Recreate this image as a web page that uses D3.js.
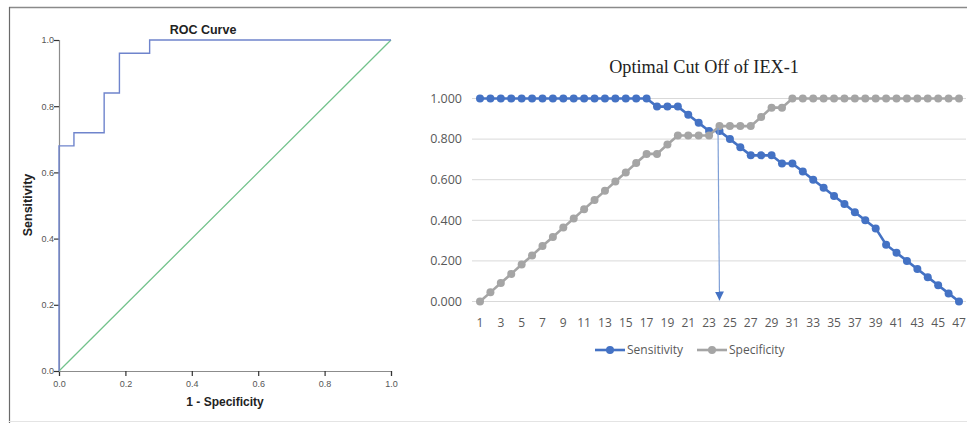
<!DOCTYPE html>
<html>
<head>
<meta charset="utf-8">
<script src="https://cdn.jsdelivr.net/npm/d3@7"></script>
<style>
  body { margin: 0; background: #fff; }
  svg { display: block; }
</style>
</head>
<body>
<div id="svg-container"></div>
<script>
// ---------------- data ----------------
// ROC curve (SPSS): 1 - specificity vs sensitivity, step points
const rocFpr = [0, 0, 0.045, 0.045, 0.136, 0.136, 0.182, 0.182, 0.273, 0.273, 1];
const rocTpr = [0, 0.68, 0.68, 0.72, 0.72, 0.84, 0.84, 0.96, 0.96, 1, 1];
const rocTicks = [0, 0.2, 0.4, 0.6, 0.8, 1.0];

// cut off table (Excel)
const cutPoints = d3.range(1, 48);
const sensitivity = [
  1, 1, 1, 1, 1, 1, 1, 1, 1, 1, 1, 1, 1, 1, 1, 1, 1,
  0.96, 0.96, 0.96, 0.92, 0.88, 0.84, 0.84, 0.80, 0.76, 0.72, 0.72, 0.72,
  0.68, 0.68, 0.64, 0.60, 0.56, 0.52, 0.48, 0.44, 0.40, 0.36,
  0.28, 0.24, 0.20, 0.16, 0.12, 0.08, 0.04, 0
];
const specificity = [
  0, 0.045, 0.091, 0.136, 0.182, 0.227, 0.273, 0.318, 0.364, 0.409, 0.455,
  0.5, 0.545, 0.591, 0.636, 0.682, 0.727, 0.727, 0.773, 0.818, 0.818, 0.818,
  0.818, 0.864, 0.864, 0.864, 0.864, 0.909, 0.955, 0.955,
  1, 1, 1, 1, 1, 1, 1, 1, 1, 1, 1, 1, 1, 1, 1, 1, 1
];
const yTicks = [0, 0.2, 0.4, 0.6, 0.8, 1.0];
const optimalCut = 24;

const width = 967, height = 423;
const svg = d3.select("#svg-container").append("svg")
  .attr("width", width).attr("height", height);

// frame
svg.append("line").attr("x1", 9).attr("y1", 7.5).attr("x2", width).attr("y2", 7.5)
  .attr("stroke", "#8a8a8a").attr("stroke-width", 1.5);
svg.append("line").attr("x1", 9.5).attr("y1", 7).attr("x2", 9.5).attr("y2", height)
  .attr("stroke", "#6a6a6a").attr("stroke-width", 1.2);
svg.append("line").attr("x1", 9).attr("y1", 421.5).attr("x2", width).attr("y2", 421.5)
  .attr("stroke", "#e4e4e4").attr("stroke-width", 1);

////////////////////////////  ROC  ///////////////////////////////
const rx = d3.scaleLinear().domain([0, 1]).range([59, 391]);
const ry = d3.scaleLinear().domain([0, 1]).range([371, 40]);

const rocAxisX = svg.append("g").attr("transform", "translate(0,371)")
  .call(d3.axisBottom(rx).tickValues(rocTicks).tickFormat(d3.format(".1f")).tickSizeOuter(0).tickSize(5));
const rocAxisY = svg.append("g").attr("transform", "translate(59,0)")
  .call(d3.axisLeft(ry).tickValues(rocTicks).tickFormat(d3.format(".1f")).tickSizeOuter(0).tickSize(5));
[rocAxisX, rocAxisY].forEach(g => {
  g.select(".domain").attr("stroke", "#8c8c8c").attr("stroke-width", 1.2);
  g.selectAll(".tick line").attr("stroke", "#333").attr("stroke-width", 1.2);
  g.selectAll(".tick text").attr("fill", "#555").style("font-family", "Liberation Sans, Arial, sans-serif")
    .style("font-size", "9px");
});
rocAxisX.selectAll(".tick text").attr("dy", "0.9em");
rocAxisY.selectAll(".tick text").attr("x", -5);

// diagonal reference
svg.append("line")
  .attr("x1", rx(0)).attr("y1", ry(0)).attr("x2", rx(1)).attr("y2", ry(1))
  .attr("stroke", "#72c28b").attr("stroke-width", 1.3);

const rocLine = d3.line().x((d, i) => rx(rocFpr[i])).y(d => ry(d));
svg.append("path").datum(rocTpr)
  .attr("d", rocLine)
  .attr("fill", "none")
  .attr("stroke", "#6f84cc")
  .attr("stroke-width", 1.4);

svg.append("text").attr("x", 203).attr("y", 34)
  .attr("text-anchor", "middle")
  .style("font-family", "Liberation Sans, Arial, sans-serif")
  .style("font-size", "12.5px").style("font-weight", "bold").attr("fill", "#222")
  .text("ROC Curve");
svg.append("text").attr("x", 225).attr("y", 406)
  .attr("text-anchor", "middle")
  .style("font-family", "Liberation Sans, Arial, sans-serif")
  .style("font-size", "12px").style("font-weight", "bold").attr("fill", "#222")
  .text("1 - Specificity");
svg.append("text").attr("transform", "translate(32,205) rotate(-90)")
  .attr("text-anchor", "middle")
  .style("font-family", "Liberation Sans, Arial, sans-serif")
  .style("font-size", "12.5px").style("font-weight", "bold").attr("fill", "#222")
  .text("Sensitivity");

//////////////////////////  Cut off  //////////////////////////////
const x = d3.scaleLinear().domain([1, 47]).range([480, 959]);
const y = d3.scaleLinear().domain([0, 1]).range([301.5, 98.5]);
const font = "Open Sans, Liberation Sans, sans-serif";

svg.append("g").selectAll("line").data(yTicks).join("line")
  .attr("x1", 472).attr("x2", 966)
  .attr("y1", d => y(d)).attr("y2", d => y(d))
  .attr("stroke", "#d9d9d9").attr("stroke-width", 1);

svg.append("g").selectAll("text").data(yTicks).join("text")
  .attr("x", 462).attr("y", d => y(d)).attr("dy", "0.35em")
  .attr("text-anchor", "end")
  .style("font-family", font).style("font-size", "12.5px").attr("fill", "#595959")
  .text(d3.format(".3f"));

svg.append("g").selectAll("text").data(cutPoints.filter(d => d % 2 === 1)).join("text")
  .attr("x", d => x(d)).attr("y", 327)
  .attr("text-anchor", "middle")
  .style("font-family", font).style("font-size", "12px").attr("fill", "#595959")
  .text(d => d);

svg.append("text").attr("x", 704).attr("y", 73)
  .attr("text-anchor", "middle")
  .style("font-family", "Liberation Serif, Times New Roman, serif")
  .style("font-size", "18.2px").attr("fill", "#222")
  .text("Optimal Cut Off of IEX-1");

const series = [
  { name: "Sensitivity", values: sensitivity, color: "#4472c4" },
  { name: "Specificity", values: specificity, color: "#a5a5a5" }
];
const line = d3.line().x((d, i) => x(cutPoints[i])).y(d => y(d));
series.forEach(s => {
  svg.append("path").datum(s.values)
    .attr("d", line).attr("fill", "none")
    .attr("stroke", s.color).attr("stroke-width", 2.6);
  svg.append("g").selectAll("circle").data(s.values).join("circle")
    .attr("cx", (d, i) => x(cutPoints[i])).attr("cy", d => y(d))
    .attr("r", 4).attr("fill", s.color);
});

// arrow at optimal cut off
const defs = svg.append("defs");
defs.append("marker").attr("id", "arrow")
  .attr("viewBox", "0 0 10 10").attr("refX", 10).attr("refY", 5)
  .attr("markerWidth", 9).attr("markerHeight", 9).attr("markerUnits", "userSpaceOnUse")
  .attr("orient", "auto")
  .append("path").attr("d", "M0,0 L10,5 L0,10 z").attr("fill", "#4472c4");
svg.append("line")
  .attr("x1", x(optimalCut) - 1.5).attr("y1", y(specificity[optimalCut - 1]) + 2)
  .attr("x2", x(optimalCut)).attr("y2", y(0) - 1)
  .attr("stroke", "#7f9fd6").attr("stroke-width", 1.2)
  .attr("marker-end", "url(#arrow)");

// legend
const legend = [
  { name: "Sensitivity", color: "#4472c4", x: 595 },
  { name: "Specificity", color: "#a5a5a5", x: 697 }
];
legend.forEach(l => {
  svg.append("line").attr("x1", l.x).attr("x2", l.x + 30).attr("y1", 350).attr("y2", 350)
    .attr("stroke", l.color).attr("stroke-width", 2.6);
  svg.append("circle").attr("cx", l.x + 15).attr("cy", 350).attr("r", 4).attr("fill", l.color);
  svg.append("text").attr("x", l.x + 32).attr("y", 350).attr("dy", "0.35em")
    .style("font-family", font).style("font-size", "12px").attr("fill", "#595959")
    .text(l.name);
});
</script>
</body>
</html>
